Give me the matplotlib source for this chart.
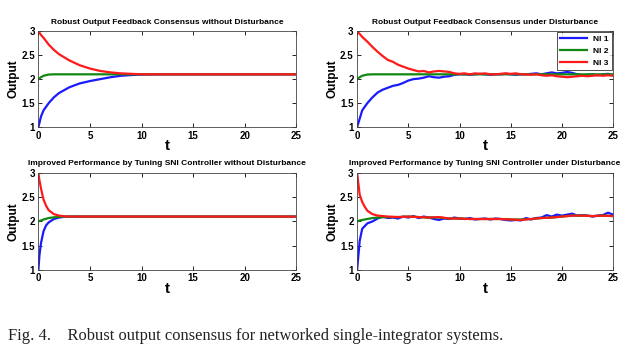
import matplotlib.pyplot as plt


# =========================================================
# Data
# =========================================================

T_HALF = [0, 0.5, 1, 1.5, 2, 2.5, 3, 3.5, 4, 4.5, 5, 5.5, 6, 6.5, 7, 7.5, 8, 8.5, 9, 9.5,
          10, 10.5, 11, 11.5, 12, 12.5, 13, 13.5, 14, 14.5, 15, 15.5, 16, 16.5, 17, 17.5,
          18, 18.5, 19, 19.5, 20, 20.5, 21, 21.5, 22, 22.5, 23, 23.5, 24, 24.5, 25]

# panel 1: without disturbance
t_slow = [0, 0.25, 0.5, 1, 1.5, 2, 3, 4, 5, 6, 7, 8, 9, 10, 12, 15, 20, 25]
ni1_slow = [1.0, 1.22, 1.35, 1.5, 1.62, 1.71, 1.83, 1.91, 1.96, 2.0, 2.04, 2.07, 2.085, 2.095, 2.1, 2.1, 2.1, 2.1]
ni2_slow = [2.0, 2.04, 2.07, 2.095, 2.1, 2.1, 2.1, 2.1, 2.1, 2.1, 2.1, 2.1, 2.1, 2.1, 2.1, 2.1, 2.1, 2.1]
ni3_slow = [3.0, 2.92, 2.86, 2.72, 2.61, 2.52, 2.39, 2.29, 2.22, 2.17, 2.14, 2.12, 2.11, 2.1, 2.1, 2.1, 2.1, 2.1]

# panel 2: under disturbance
ni1_dist = [1.0, 1.35, 1.5, 1.62, 1.72, 1.78, 1.82, 1.86, 1.88, 1.92, 1.97, 2.0, 2.01, 2.03, 2.06, 2.04,
            2.03, 2.05, 2.06, 2.09, 2.1, 2.1, 2.09, 2.1, 2.11, 2.1, 2.09, 2.1, 2.1, 2.11, 2.1, 2.09,
            2.1, 2.1, 2.11, 2.12, 2.1, 2.12, 2.14, 2.12, 2.13, 2.15, 2.13, 2.1, 2.08, 2.09, 2.1, 2.08,
            2.1, 2.11, 2.08]
ni3_dist = [3.0, 2.88, 2.78, 2.67, 2.57, 2.48, 2.4, 2.36, 2.3, 2.26, 2.22, 2.19, 2.16, 2.17, 2.14, 2.16,
            2.17, 2.16, 2.15, 2.12, 2.11, 2.12, 2.1, 2.12, 2.11, 2.12, 2.1, 2.1, 2.11, 2.12, 2.11, 2.12,
            2.1, 2.1, 2.09, 2.1, 2.08, 2.07, 2.08, 2.06, 2.05, 2.04, 2.05, 2.06, 2.07, 2.06, 2.07, 2.08,
            2.07, 2.08, 2.07]

# panel 3: tuned, without disturbance
t_fast = [0, 0.1, 0.25, 0.5, 0.75, 1, 1.5, 2, 2.5, 3, 5, 10, 25]
ni1_fast = [1.0, 1.3, 1.55, 1.8, 1.92, 1.98, 2.05, 2.08, 2.095, 2.1, 2.1, 2.1, 2.1]
ni2_fast = [2.0, 2.01, 2.02, 2.04, 2.055, 2.07, 2.085, 2.095, 2.1, 2.1, 2.1, 2.1, 2.1]
ni3_fast = [3.0, 2.85, 2.68, 2.45, 2.32, 2.23, 2.15, 2.12, 2.105, 2.1, 2.1, 2.1, 2.1]

# panel 4: tuned, under disturbance
t_fd = [0, 0.25] + T_HALF[1:]
ni1_fd = [1.0, 1.6, 1.85, 1.96, 2.0, 2.06, 2.1, 2.07, 2.08, 2.06, 2.1, 2.08, 2.11, 2.07, 2.1, 2.08,
          2.05, 2.03, 2.06, 2.05, 2.08, 2.06, 2.05, 2.07, 2.04, 2.05, 2.06, 2.04, 2.06, 2.05, 2.03,
          2.02, 2.03, 2.02, 2.07, 2.04, 2.07, 2.08, 2.13, 2.1, 2.14, 2.12, 2.14, 2.16, 2.12, 2.13,
          2.12, 2.1, 2.12, 2.13, 2.18, 2.14]
t_fd2 = [0, 0.25, 0.5, 0.75, 1, 1.5, 2, 3, 4, 5, 6, 7, 8, 9, 10, 11, 12, 13, 14, 15, 16, 17, 18,
         19, 20, 21, 22, 23, 24, 25]
ni2_fd = [2.0, 2.02, 2.03, 2.04, 2.05, 2.07, 2.08, 2.09, 2.09, 2.1, 2.09, 2.08, 2.08, 2.06, 2.06,
          2.05, 2.05, 2.05, 2.05, 2.04, 2.04, 2.05, 2.07, 2.08, 2.1, 2.12, 2.12, 2.11, 2.12, 2.11]
ni3_fd = [3.0, 2.55, 2.4, 2.3, 2.22, 2.15, 2.12, 2.1, 2.09, 2.1, 2.09, 2.08, 2.09, 2.06, 2.06,
          2.05, 2.05, 2.05, 2.05, 2.04, 2.03, 2.05, 2.07, 2.08, 2.1, 2.12, 2.12, 2.11, 2.12, 2.11]

LABELS = ["NI 1", "NI 2", "NI 3"]
COLORS = ["#1a1aff", "#118811", "#ff1a1a"]

TITLES = [
    "Robust Output Feedback Consensus without Disturbance",
    "Robust Output Feedback Consensus under Disturbance",
    "Improved Performance by Tuning SNI Controller without Disturbance",
    "Improved Performance by Tuning SNI Controller under Disturbance",
]


plt.rcParams["font.family"] = ["Liberation Sans", "DejaVu Sans"]


# =========================================================
# Helpers
# =========================================================

def style_axes(ax, title):

    ax.set_xlim(0, 25)
    ax.set_ylim(1, 3)

    ax.set_xticks([0, 5, 10, 15, 20, 25])
    ax.set_yticks([1, 1.5, 2, 2.5, 3])
    ax.set_yticklabels(["1", "1.5", "2", "2.5", "3"])

    ax.tick_params(
        direction="in",
        top=True,
        right=True,
        length=3,
        width=0.6,
        labelsize=7,
        pad=2.5
    )

    for lbl in ax.get_xticklabels() + ax.get_yticklabels():
        lbl.set_fontweight("bold")

    for sp in ax.spines.values():
        sp.set_linewidth(0.6)
        sp.set_color("#444444")

    ax.set_title(title, fontsize=6.0, fontweight="bold", pad=5.5)
    ax.set_xlabel("t", fontsize=11, fontweight="bold", labelpad=-1)
    ax.set_ylabel("Output", fontsize=8.5, fontweight="bold", labelpad=1)


# =========================================================
# Figure
# =========================================================

fig = plt.figure(figsize=(6.4, 3.58), dpi=100)

ax1 = fig.add_axes([0.060, 0.645, 0.403, 0.268])
ax2 = fig.add_axes([0.558, 0.645, 0.400, 0.268])
ax3 = fig.add_axes([0.060, 0.246, 0.403, 0.271])
ax4 = fig.add_axes([0.558, 0.246, 0.400, 0.271])

lw = 1.6

ax1.plot(t_slow, ni1_slow, color=COLORS[0], lw=lw)
ax1.plot(t_slow, ni2_slow, color=COLORS[1], lw=lw)
ax1.plot(t_slow, ni3_slow, color=COLORS[2], lw=lw)

ax2.plot(T_HALF, ni1_dist, color=COLORS[0], lw=lw, label=LABELS[0])
ax2.plot(t_slow, ni2_slow, color=COLORS[1], lw=lw, label=LABELS[1])
ax2.plot(T_HALF, ni3_dist, color=COLORS[2], lw=lw, label=LABELS[2])

ax3.plot(t_fast, ni1_fast, color=COLORS[0], lw=lw)
ax3.plot(t_fast, ni2_fast, color=COLORS[1], lw=lw)
ax3.plot(t_fast, ni3_fast, color=COLORS[2], lw=lw)

ax4.plot(t_fd, ni1_fd, color=COLORS[0], lw=lw)
ax4.plot(t_fd2, ni2_fd, color=COLORS[1], lw=lw)
ax4.plot(t_fd2, ni3_fd, color=COLORS[2], lw=lw)

for ax, title in zip([ax1, ax2, ax3, ax4], TITLES):
    style_axes(ax, title)

leg = ax2.legend(
    loc="upper right",
    fontsize=6,
    handlelength=3.2,
    borderpad=0.4,
    labelspacing=0.5,
    fancybox=False,
    borderaxespad=0.1
)
leg.get_frame().set_edgecolor("black")
leg.get_frame().set_linewidth(0.6)
for txt in leg.get_texts():
    txt.set_fontweight("bold")

fig.text(
    0.012,
    0.05,
    "Fig. 4.    Robust output consensus for networked single-integrator systems.",
    fontsize=11.9,
    family="Liberation Serif",
    color="#222222"
)

fig.savefig("out.png", dpi=100)
